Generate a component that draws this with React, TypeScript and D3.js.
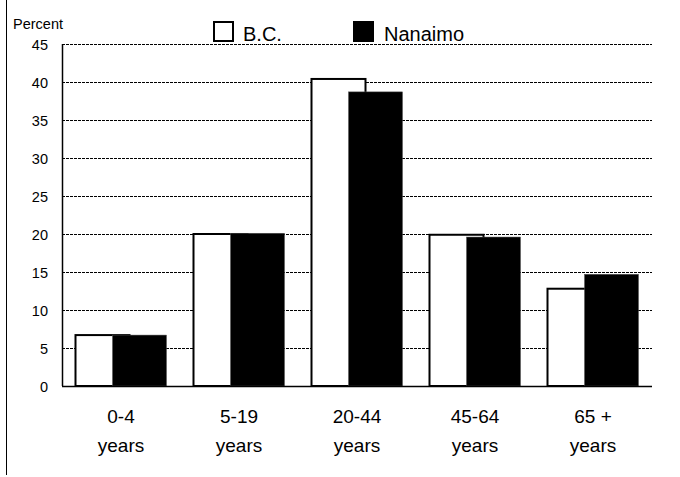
import React from "react";
import * as d3 from "d3";

const categories = ["0-4|years", "5-19|years", "20-44|years", "45-64|years", "65 +|years"];
const bcValues = [6.7, 20.0, 40.4, 19.9, 12.8];
const nanaimoValues = [6.7, 20.1, 38.7, 19.6, 14.7];
const yTicks = [0, 5, 10, 15, 20, 25, 30, 35, 40, 45];

const W = 680, H = 477;
const left = 62, right = 652, top = 44, bottom = 386;
const font = "'Liberation Sans', Arial, sans-serif";

export default function App() {
  const x = d3.scaleBand<string>().domain(categories).range([left, right]);
  const y = d3.scaleLinear().domain([0, 45]).range([bottom, top]);
  const bw = 54;
  const shift = 37;
  return (
    <svg width={W} height={H} style={{ position: "absolute", left: 0, top: 0 }} fontFamily={font}>
      <rect x={0} y={0} width={W} height={H} fill="white" />
      <line x1={6.5} x2={6.5} y1={0} y2={475} stroke="black" strokeWidth={1} />
      {yTicks.map((t) => (
        <g key={t}>
          {t > 0 && (
            <line x1={left} x2={right} y1={y(t) + 0.5} y2={y(t) + 0.5} stroke="black" strokeWidth={1} strokeDasharray="3,1" />
          )}
          <text x={48} y={y(t) + 5.5} textAnchor="end" fontSize={14.5}>{t}</text>
        </g>
      ))}
      <text x={13} y={28.5} fontSize={14.5}>Percent</text>
      {categories.map((c, i) => {
        const cx = x(c)! + x.bandwidth() / 2;
        const wx = cx - (bw + shift) / 2;
        return (
          <g key={c}>
            <rect x={wx} y={y(bcValues[i])} width={bw} height={bottom - y(bcValues[i])} fill="white" stroke="black" strokeWidth={2} />
            <rect x={wx + shift} y={y(nanaimoValues[i])} width={bw} height={bottom - y(nanaimoValues[i])} fill="black" stroke="#555" strokeWidth={0.5} />
            {c.split("|").map((s, k) => (
              <text key={k} x={cx} y={423 + k * 29} textAnchor="middle" fontSize={19}>{s}</text>
            ))}
          </g>
        );
      })}
      <line x1={left + 0.5} x2={left + 0.5} y1={top} y2={bottom} stroke="black" strokeWidth={1.5} />
      <line x1={left} x2={right} y1={bottom + 0.5} y2={bottom + 0.5} stroke="black" strokeWidth={1.5} />
      <rect x={214} y={22} width={19} height={19} fill="white" stroke="black" strokeWidth={2} />
      <text x={243} y={40.5} fontSize={20}>B.C.</text>
      <rect x={353} y={21} width={21} height={21} fill="black" />
      <text x={384} y={40.5} fontSize={20}>Nanaimo</text>
    </svg>
  );
}
